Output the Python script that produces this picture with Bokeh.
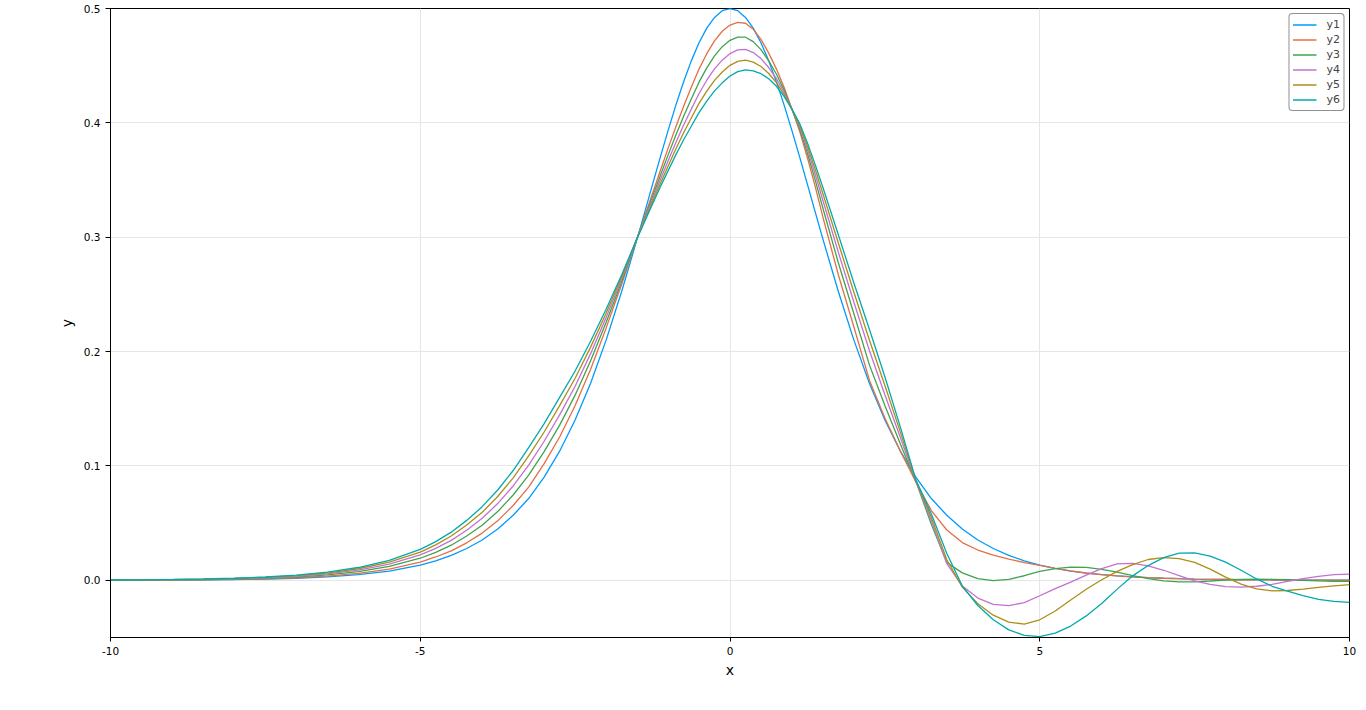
from bokeh.plotting import figure
from bokeh.models import (ColumnDataSource, Range1d, FixedTicker,
                          NumeralTickFormatter, Legend, LegendItem)
from bokeh.embed import file_html
from bokeh.resources import INLINE

# ---------------- data ----------------
x = [-10, -9.5, -9, -8.5, -8, -7.5, -7, -6.5, -6, -5.5, -5,
     -4.75, -4.5, -4.25, -4, -3.75, -3.5, -3.25, -3, -2.75, -2.5, -2.25, -2, -1.75, -1.5,
     -1.375, -1.25, -1.125, -1, -0.875, -0.75, -0.625, -0.5, -0.375, -0.25, -0.125, 0,
     0.125, 0.25, 0.375, 0.5, 0.625, 0.75, 0.875, 1, 1.125, 1.25, 1.375, 1.5,
     1.75, 2, 2.25, 2.5, 2.75, 3, 3.25, 3.5, 3.75, 4, 4.25, 4.5, 4.75, 5,
     5.25, 5.5, 5.75, 6, 6.25, 6.5, 6.75, 7, 7.25, 7.5, 7.75, 8,
     8.25, 8.5, 8.75, 9, 9.25, 9.5, 9.75, 10]

y1 = [0.00009, 0.00015, 0.00025, 0.0004, 0.00067, 0.0011, 0.0018, 0.003, 0.0049, 0.0081, 0.0133,
      0.0171, 0.0218, 0.0278, 0.0353, 0.0448, 0.0569, 0.0715, 0.0903, 0.1129, 0.1402, 0.1724, 0.21, 0.2523, 0.2983,
      0.3222, 0.3462, 0.37, 0.3932, 0.4153, 0.4358, 0.4542, 0.47, 0.4828, 0.4922, 0.4981, 0.5,
      0.4981, 0.4922, 0.4828, 0.47, 0.4542, 0.4358, 0.4153, 0.3932, 0.37, 0.3462, 0.3222, 0.2983,
      0.2523, 0.21, 0.1724, 0.1402, 0.1129, 0.0903, 0.0715, 0.0569, 0.0448, 0.0353, 0.0278, 0.0218, 0.0171, 0.0133,
      0.0104, 0.0081, 0.0063, 0.0049, 0.0039, 0.003, 0.0023, 0.0018, 0.0014, 0.0011, 0.0009, 0.0007,
      0.0005, 0.0004, 0.0003, 0.00025, 0.0002, 0.00015, 0.0001, 0.00009]

y2 = [0.00011, 0.00019, 0.00031, 0.0005, 0.00082, 0.00135, 0.0022, 0.00366, 0.006, 0.0098, 0.016,
      0.0204, 0.0258, 0.0328, 0.0413, 0.052, 0.0654, 0.0815, 0.102, 0.1253, 0.1528, 0.1845, 0.2205, 0.2586, 0.2992,
      0.3187, 0.3385, 0.3582, 0.3777, 0.3964, 0.4143, 0.4311, 0.447, 0.4605, 0.4717, 0.4801, 0.4855,
      0.4879, 0.4871, 0.4819, 0.473, 0.461, 0.447, 0.431, 0.412, 0.3925, 0.3695, 0.3445, 0.3175,
      0.267, 0.2215, 0.175, 0.142, 0.113, 0.086, 0.061, 0.044, 0.033, 0.0265, 0.022, 0.0185, 0.0155, 0.013,
      0.0105, 0.0082, 0.0064, 0.0049, 0.0038, 0.003, 0.0023, 0.0018, 0.0014, 0.0011, 0.0009, 0.0007,
      0.0005, 0.0004, 0.0003, 0.00025, 0.0002, 0.00015, 0.0001, 0.00009]

y3 = [0.00017, 0.00027, 0.00044, 0.0007, 0.00111, 0.0018, 0.00289, 0.00469, 0.00756, 0.01211, 0.0193,
      0.0244, 0.0307, 0.0387, 0.0482, 0.0601, 0.0746, 0.0919, 0.1125, 0.1357, 0.1619, 0.1919, 0.2255, 0.2611, 0.2991,
      0.3173, 0.3357, 0.3539, 0.3718, 0.3891, 0.4055, 0.4209, 0.4356, 0.4481, 0.4586, 0.4666, 0.4722,
      0.475, 0.4749, 0.471, 0.464, 0.4543, 0.4425, 0.4286, 0.412, 0.3946, 0.3734, 0.3502, 0.3253,
      0.2775, 0.2331, 0.1884, 0.1528, 0.1193, 0.0866, 0.049, 0.0155, 0.0065, 0.0015, -0.0003, 0.0008, 0.004, 0.0078,
      0.0103, 0.0115, 0.0113, 0.0096, 0.0071, 0.0042, 0.0015, -0.0005, -0.0014, -0.0013, -0.0006, 0.0002,
      0.0008, 0.001, 0.0009, 0.0005, 0.0, -0.0005, -0.0008, -0.001]

y4 = [0.00022, 0.00035, 0.00055, 0.00087, 0.00137, 0.00222, 0.00349, 0.00559, 0.00891, 0.01411, 0.0222,
      0.0279, 0.0349, 0.0438, 0.0542, 0.0671, 0.0825, 0.1008, 0.1216, 0.1447, 0.1697, 0.1982, 0.2297, 0.2633, 0.2991,
      0.3161, 0.3332, 0.3502, 0.3667, 0.3827, 0.3979, 0.412, 0.4257, 0.4373, 0.4472, 0.4548, 0.4606,
      0.4638, 0.4643, 0.4615, 0.4562, 0.4484, 0.4386, 0.4265, 0.412, 0.3964, 0.3768, 0.3551, 0.3321,
      0.2866, 0.2431, 0.2009, 0.1622, 0.1248, 0.0871, 0.052, 0.0145, -0.005, -0.0155, -0.021, -0.0222, -0.0195, -0.0135,
      -0.0072, -0.0015, 0.0045, 0.0103, 0.0143, 0.0148, 0.0127, 0.0088, 0.0042, -0.0005, -0.0035, -0.0055,
      -0.006, -0.0052, -0.0035, -0.001, 0.0015, 0.0035, 0.005, 0.0055]

y5 = [0.00026, 0.00041, 0.00065, 0.00102, 0.00159, 0.00257, 0.00402, 0.00638, 0.01011, 0.01588, 0.0247,
      0.031, 0.0387, 0.0483, 0.0595, 0.0733, 0.0896, 0.1088, 0.1297, 0.1527, 0.1767, 0.2039, 0.2335, 0.2652, 0.299,
      0.315, 0.331, 0.347, 0.3621, 0.3771, 0.3912, 0.4042, 0.417, 0.4277, 0.4372, 0.4445, 0.4503,
      0.4538, 0.4549, 0.4531, 0.4493, 0.4432, 0.4352, 0.4247, 0.412, 0.398, 0.3798, 0.3595, 0.338,
      0.2947, 0.2519, 0.2102, 0.1704, 0.1296, 0.0876, 0.055, 0.018, -0.006, -0.0205, -0.0305, -0.0365, -0.0383, -0.0345,
      -0.0268, -0.0172, -0.0078, 0.0005, 0.0078, 0.0138, 0.0182, 0.0198, 0.019, 0.0157, 0.0098, 0.0028,
      -0.0033, -0.0075, -0.0092, -0.0089, -0.0077, -0.0062, -0.0049, -0.0038]

y6 = [0.0003, 0.00047, 0.00074, 0.00116, 0.0018, 0.0029, 0.0045, 0.0071, 0.0112, 0.0175, 0.027,
      0.0338, 0.0421, 0.0524, 0.0644, 0.079, 0.096, 0.116, 0.137, 0.16, 0.183, 0.209, 0.237, 0.267, 0.299,
      0.314, 0.329, 0.344, 0.358, 0.372, 0.385, 0.397, 0.409, 0.419, 0.428, 0.435, 0.441,
      0.4448, 0.4464, 0.4455, 0.443, 0.4385, 0.432, 0.423, 0.412, 0.3995, 0.3825, 0.3635, 0.3435,
      0.302, 0.26, 0.2195, 0.178, 0.134, 0.088, 0.058, 0.0234, -0.005, -0.022, -0.0345, -0.0433, -0.0482, -0.0492,
      -0.0462, -0.04, -0.0311, -0.0202, -0.0077, 0.0039, 0.0129, 0.0198, 0.0237, 0.0239, 0.0211, 0.0159,
      0.0088, 0.0012, -0.0052, -0.0094, -0.0134, -0.0166, -0.0185, -0.0192]

series_names = ["y1", "y2", "y3", "y4", "y5", "y6"]
series_colors = ["#009AFA", "#E36F47", "#3EA44E", "#C371D2", "#AC8E18", "#00AAAE"]
x_ticks = [-10, -5, 0, 5, 10]
y_ticks = [0.0, 0.1, 0.2, 0.3, 0.4, 0.5]

# ---------------- figure ----------------
src = ColumnDataSource(dict(x=x, y1=y1, y2=y2, y3=y3, y4=y4, y5=y5, y6=y6))

p = figure(width=1358, height=698, output_backend="svg", toolbar_location=None,
           x_range=Range1d(-10, 10), y_range=Range1d(-0.05, 0.5),
           min_border_left=110, min_border_right=9, min_border_top=8, min_border_bottom=61)
p.background_fill_color = "white"
p.border_fill_color = "white"
p.outline_line_color = "black"
p.outline_line_width = 1
p.outline_line_alpha = 1

p.xaxis.ticker = FixedTicker(ticks=x_ticks)
p.yaxis.ticker = FixedTicker(ticks=y_ticks)
p.xaxis.formatter = NumeralTickFormatter(format="0")
p.yaxis.formatter = NumeralTickFormatter(format="0.0")

for ax in (p.xaxis, p.yaxis):
    ax.axis_line_color = "black"
    ax.axis_line_width = 1
    ax.major_tick_line_color = "black"
    ax.major_tick_in = 0
    ax.minor_tick_line_color = None
    ax.major_label_text_font = "DejaVu Sans"
    ax.major_label_text_font_size = "10.5px"
    ax.major_label_text_color = "black"
    ax.axis_label_text_font = "DejaVu Sans"
    ax.axis_label_text_font_size = "14px"
    ax.axis_label_text_font_style = "normal"
    ax.axis_label_text_color = "black"

p.xaxis.major_tick_out = 4
p.xaxis.major_label_standoff = 5
p.xaxis.axis_label = "x"
p.xaxis.axis_label_standoff = 4
p.yaxis.major_tick_out = 5
p.yaxis.major_label_standoff = 5
p.yaxis.axis_label = "y"
p.yaxis.axis_label_standoff = 6

p.grid.grid_line_color = "#e6e6e6"
p.grid.grid_line_width = 1

items = []
for name, col in zip(series_names, series_colors):
    r = p.line("x", name, source=src, line_color=col, line_width=1.3)
    items.append(LegendItem(label=name, renderers=[r]))

legend = Legend(items=items, location="top_right")
legend.margin = 5
legend.padding = 3
legend.spacing = 0
legend.glyph_width = 24
legend.glyph_height = 15
legend.label_height = 15
legend.label_width = 13
legend.label_standoff = 10
legend.label_text_font = "DejaVu Sans"
legend.label_text_font_size = "11px"
legend.border_line_color = "#222222"
legend.border_line_width = 1
legend.background_fill_color = "white"
legend.background_fill_alpha = 1
if "border_radius" in Legend.properties():
    legend.border_radius = 4
p.add_layout(legend)

open("out.html", "w").write(file_html(p, INLINE))
